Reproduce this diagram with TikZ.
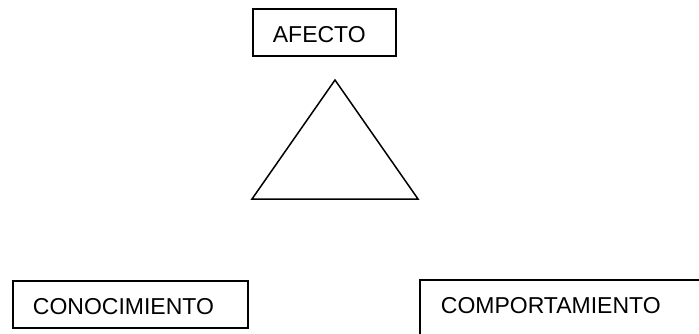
\documentclass[tikz,border=0pt]{standalone}
\usepackage{fontspec}
\setmainfont{Liberation Sans}
\usepackage{tikz}

\tikzset{
  caja/.style={draw, line width=1.8pt, anchor=north west, align=left,
    inner xsep=20pt, inner ysep=6pt, text height=28pt, text depth=7pt,
    font=\fontsize{23}{28}\selectfont}
}

\begin{document}
\begin{tikzpicture}[x=1pt,y=-1pt]
\clip (0,0) rectangle (699,334);

\node[caja, text width=103pt] (afecto) at (252,8) {AFECTO};

\draw[line width=1.5pt, line join=miter] (335,80) -- (418,199) -- (252,199) -- cycle;

\node[caja, text width=195pt] (conocimiento) at (12,280) {CONOCIMIENTO};
\node[caja, text width=260pt, text depth=60pt, inner xsep=21pt] (comportamiento) at (419,279) {COMPORTAMIENTO};
\end{tikzpicture}
\end{document}
